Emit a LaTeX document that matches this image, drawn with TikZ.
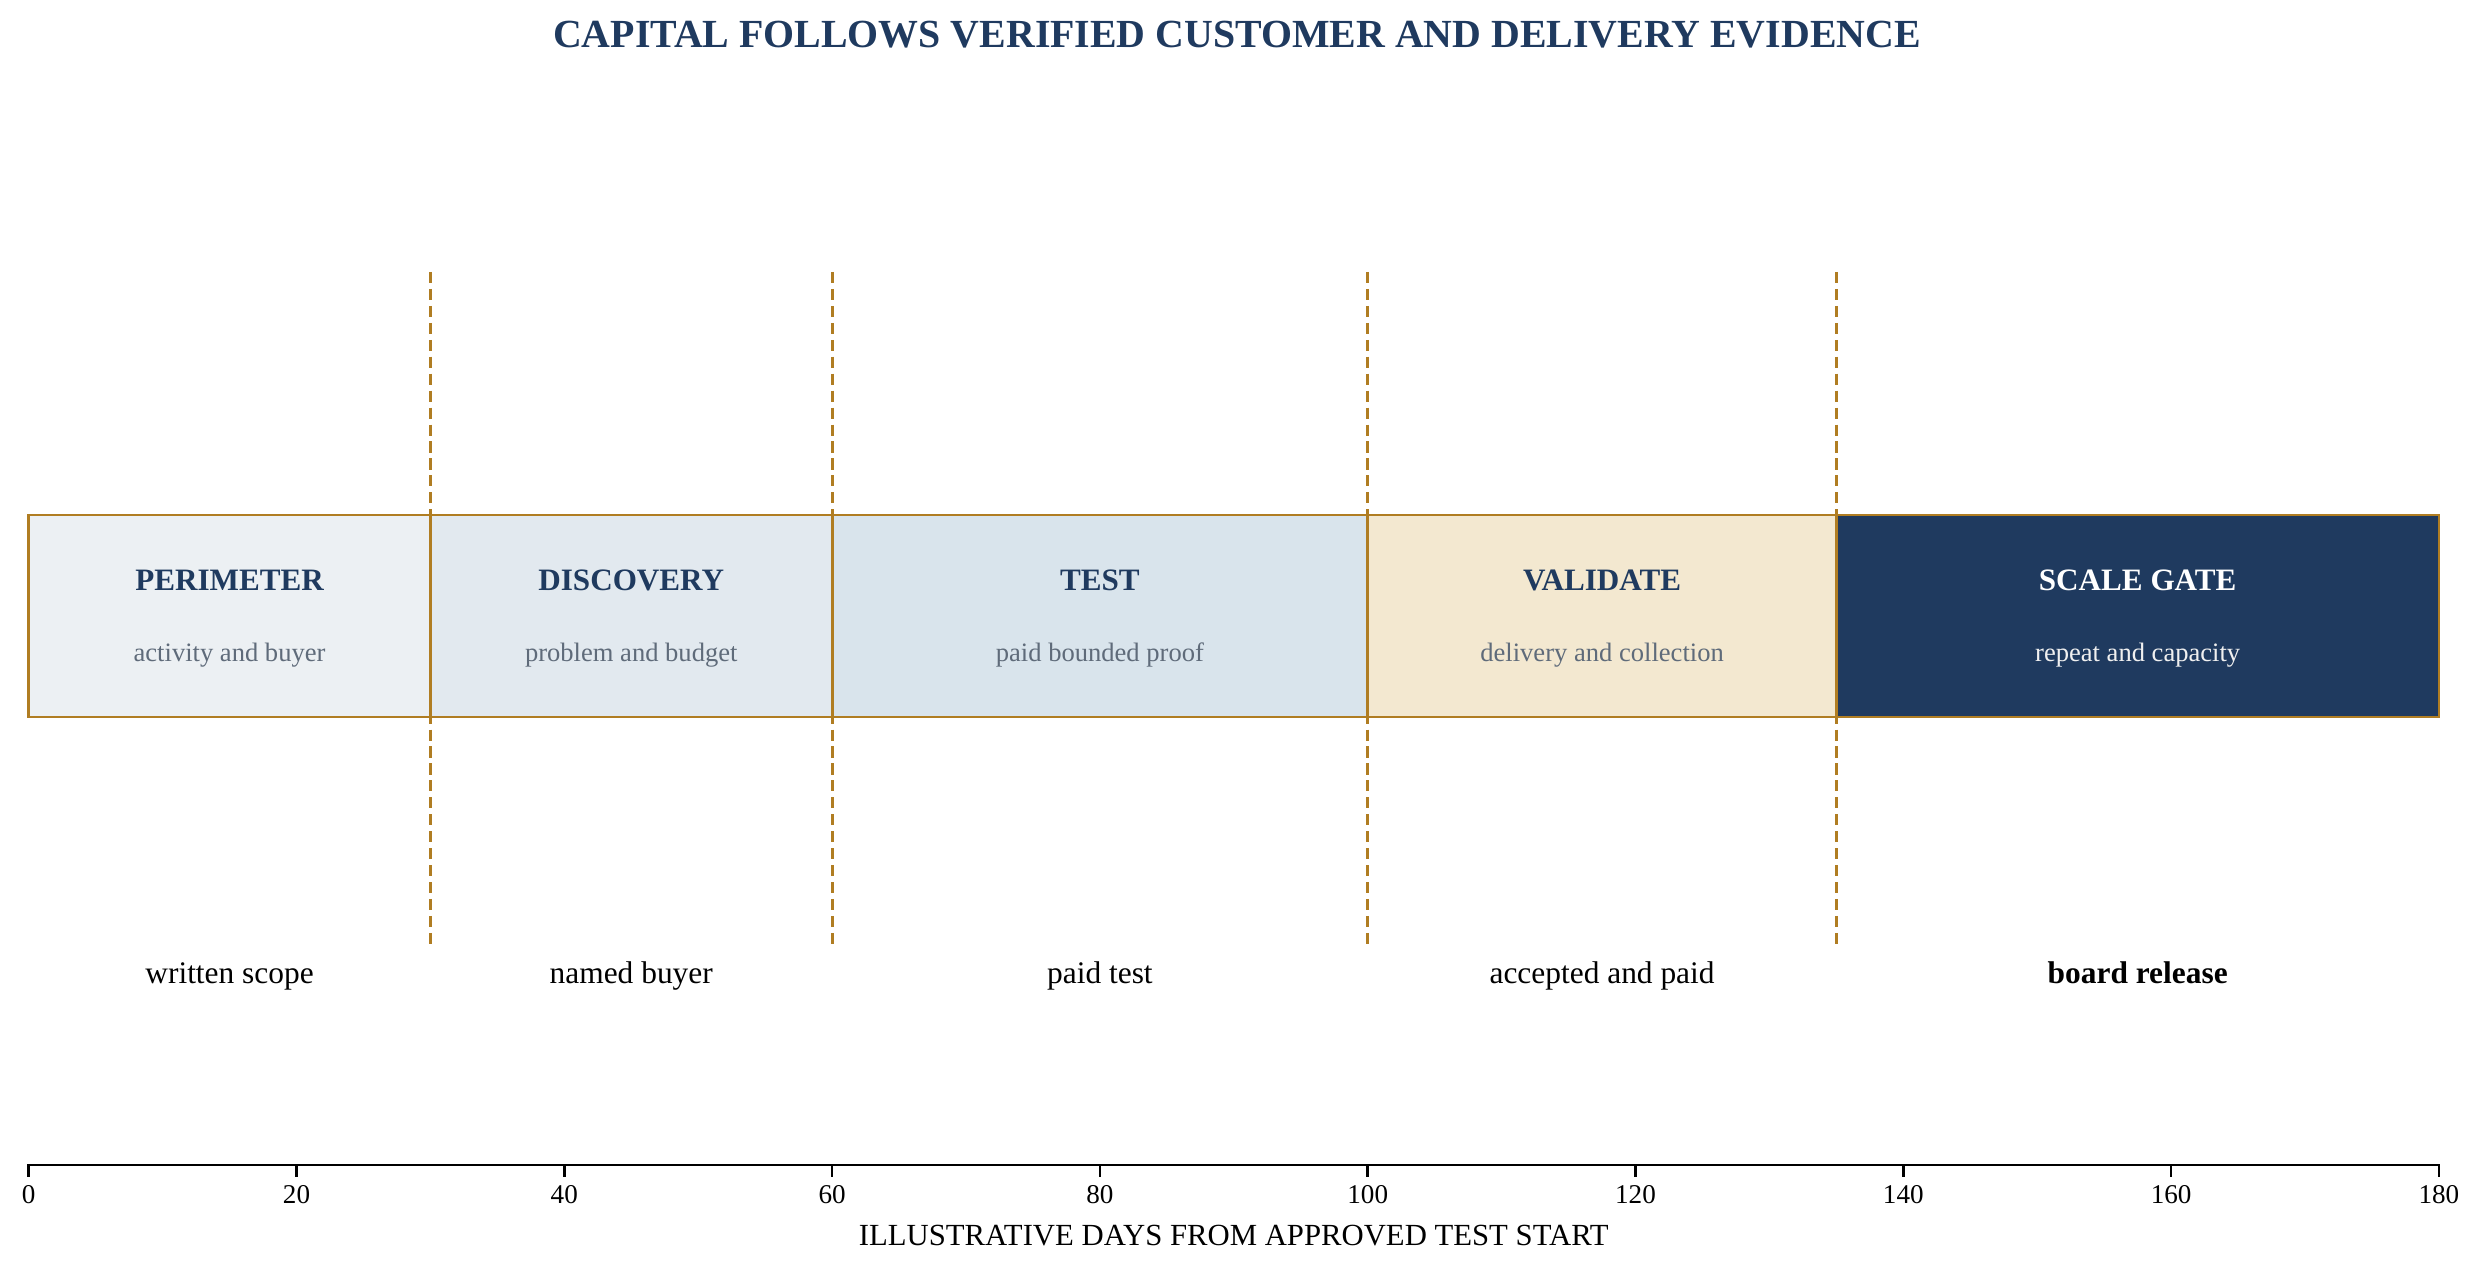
\documentclass[tikz,border=0pt]{standalone}
\usepackage{fontspec}
\setmainfont{Liberation Serif}
\definecolor{navy}{HTML}{1F3A5F}
\definecolor{gold}{HTML}{B07D22}
\definecolor{fillA}{HTML}{ECF0F3}
\definecolor{fillB}{HTML}{E2E9EF}
\definecolor{fillC}{HTML}{D9E4EC}
\definecolor{fillD}{HTML}{F3E8D0}
\definecolor{subgray}{HTML}{5F6B7A}
\begin{document}
\begin{tikzpicture}[x=0.36bp,y=-0.36bp,
  phase/.style={draw=gold, line width=1bp, rectangle, inner sep=0pt, minimum height=202*0.36bp},
  ptitle/.style={font=\fontsize{11.25}{13}\selectfont\bfseries, text=navy, inner sep=0pt},
  psub/.style={font=\fontsize{9.6}{11}\selectfont, text=subgray, inner sep=0pt},
  milestone/.style={font=\fontsize{11.35}{13}\selectfont, text=black, inner sep=0pt, text height=0.7em, text depth=0.2em},
  gate/.style={draw=gold, line width=1.1bp, dash pattern=on 4bp off 2.1bp},
  ticklbl/.style={font=\fontsize{9.8}{11}\selectfont, inner sep=0pt, anchor=north},
]
\useasboundingbox (0,0) rectangle (2483,1274);
% title
\node[font=\fontsize{14.4}{17}\selectfont\bfseries, text=navy, inner sep=0pt] (title) at (1237,35) {CAPITAL FOLLOWS VERIFIED CUSTOMER AND DELIVERY EVIDENCE};
% dashed gates
\foreach \n/\x in {g1/430.4, g2/832.1, g3/1367.7, g4/1836.4}{
  \coordinate (\n top) at (\x,272);
  \coordinate (\n bot) at (\x,947);
  \draw[gate] (\n top) -- (\n bot);
}
% phase boxes
\node[phase, fill=fillA, minimum width=401.7*0.36bp] (perimeter) at (229.55,616) {};
\node[phase, fill=fillB, minimum width=401.7*0.36bp] (discovery) at (631.25,616) {};
\node[phase, fill=fillC, minimum width=535.6*0.36bp] (test) at (1099.9,616) {};
\node[phase, fill=fillD, minimum width=468.7*0.36bp] (validate) at (1602.05,616) {};
\node[phase, fill=navy, minimum width=602.5*0.36bp] (scale) at (2137.65,616) {};
% phase texts
\node[ptitle] (perimeterT) at (229.55,580) {PERIMETER};
\node[psub] (perimeterS) at (229.55,655) {activity and buyer};
\node[ptitle] (discoveryT) at (631.25,580) {DISCOVERY};
\node[psub] (discoveryS) at (631.25,655) {problem and budget};
\node[ptitle] (testT) at (1099.9,580) {TEST};
\node[psub] (testS) at (1099.9,655) {paid bounded proof};
\node[ptitle] (validateT) at (1602.05,580) {VALIDATE};
\node[psub] (validateS) at (1602.05,655) {delivery and collection};
\node[ptitle, text=white] (scaleT) at (2137.65,580) {SCALE GATE};
\node[psub, text=white!94!black] (scaleS) at (2137.65,655) {repeat and capacity};
% milestones
\node[milestone] (m1) at (229.55,977) {written scope};
\node[milestone] (m2) at (631.25,977) {named buyer};
\node[milestone] (m3) at (1099.9,977) {paid test};
\node[milestone] (m4) at (1602.05,977) {accepted and paid};
\node[milestone, font=\fontsize{11.35}{13}\selectfont\bfseries] (m5) at (2137.65,977) {board release};
% axis
\coordinate (axL) at (28.7,1165);
\coordinate (axR) at (2438.9,1165);
\draw[line width=0.9bp, line cap=rect] (axL) -- (axR);
\foreach \d in {0,20,...,180}{
  \coordinate (t\d) at ({28.7+13.39*\d},1165);
  \coordinate (b\d) at ({28.7+13.39*\d},1177);
  \draw[line width=0.9bp] (t\d) -- (b\d);
  \node[ticklbl] (l\d) at ({28.7+13.39*\d},1185) {\d};
}
\node[font=\fontsize{11.1}{13}\selectfont, inner sep=0pt] (xlabel) at (1233.8,1236) {ILLUSTRATIVE DAYS FROM APPROVED TEST START};
\end{tikzpicture}
\end{document}
